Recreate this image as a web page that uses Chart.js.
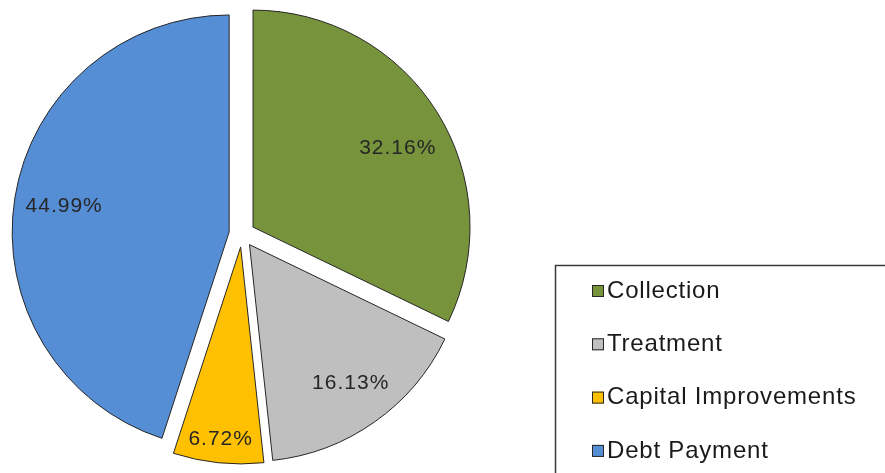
<!DOCTYPE html>
<html>
<head>
<meta charset="utf-8">
<script src="https://cdn.jsdelivr.net/npm/chart.js@4"></script>
<style>
    body { margin: 0; background: #ffffff; }
    #wrap { width: 885px; height: 473px; position: relative; }
</style>
</head>
<body>
<div id="wrap"><canvas id="pie-chart"></canvas></div>
<script>
// chart data
const categories = ['Collection', 'Treatment', 'Capital Improvements', 'Debt Payment'];
const shares = [32.16, 16.13, 6.72, 44.99];
const sliceColors = ['#77933C', '#BFBFBF', '#FFC000', '#558ED5'];

// where each label sits: part of the radius, and a small turn (degrees) off the slice middle
const labelRadius = [0.76, 0.79, 0.89, 0.77];
const labelTurn = [3.5, -1, 0, 0];
const EXPLODE = 13;      // px each slice is pulled out
const PIE_RADIUS = 217;

// draw the slices ourselves so every one is pulled out by the same distance
const explodePlugin = {
    id: 'explode',
    beforeDatasetDraw: function (chart, args) {
        const ctx = chart.ctx;
        args.meta.data.forEach(function (arc) {
            const mid = (arc.startAngle + arc.endAngle) / 2;
            ctx.save();
            ctx.translate(Math.cos(mid) * EXPLODE, Math.sin(mid) * EXPLODE);
            arc.draw(ctx);
            ctx.restore();
        });
        return false;
    }
};

// percentage labels inside the slices
const labelPlugin = {
    id: 'sliceLabels',
    afterDatasetsDraw: function (chart) {
        const ctx = chart.ctx;
        const meta = chart.getDatasetMeta(0);
        ctx.save();
        ctx.font = '21px "Liberation Sans", Arial, sans-serif';
        ctx.letterSpacing = '1px';
        ctx.fillStyle = '#262626';
        ctx.textAlign = 'center';
        ctx.textBaseline = 'middle';
        meta.data.forEach(function (arc, i) {
            const mid = (arc.startAngle + arc.endAngle) / 2;
            const a = mid + labelTurn[i] * Math.PI / 180;
            const d = arc.outerRadius * labelRadius[i];
            const x = arc.x + Math.cos(mid) * EXPLODE + Math.cos(a) * d;
            const y = arc.y + Math.sin(mid) * EXPLODE + Math.sin(a) * d;
            const value = chart.data.datasets[0].data[i];
            ctx.fillText(value.toFixed(2) + '%', x, y);
        });
        ctx.restore();
    }
};

// boxed legend at the bottom right
const legendPlugin = {
    id: 'boxLegend',
    afterDraw: function (chart) {
        const ctx = chart.ctx;
        const left = 555.5, top = 265.5;
        const firstRow = 291, rowGap = 53.3;
        ctx.save();
        ctx.strokeStyle = '#3a3a3a';
        ctx.lineWidth = 1.5;
        ctx.strokeRect(left, top, chart.width, chart.height);
        ctx.font = '24px "Liberation Sans", Arial, sans-serif';
        ctx.letterSpacing = '0.8px';
        ctx.textBaseline = 'middle';
        chart.data.labels.forEach(function (label, i) {
            const y = firstRow + i * rowGap;
            ctx.fillStyle = chart.data.datasets[0].backgroundColor[i];
            ctx.fillRect(592, y - 6, 12, 12);
            ctx.strokeStyle = '#262626';
            ctx.lineWidth = 1;
            ctx.strokeRect(592.5, y - 5.5, 11, 11);
            ctx.fillStyle = '#1a1a1a';
            ctx.fillText(label, 607, y);
        });
        ctx.restore();
    }
};

const canvas = document.getElementById('pie-chart');

new Chart(canvas, {
    type: 'pie',
    data: {
        labels: categories,
        datasets: [{
            data: shares,
            backgroundColor: sliceColors,
            borderColor: '#262626',
            borderWidth: 1,
            hoverBorderWidth: 1,
            offset: 0,
            hoverOffset: 0
        }]
    },
    options: {
        responsive: true,
        maintainAspectRatio: false,
        animation: false,
        radius: PIE_RADIUS,
        layout: {
            padding: { left: 0, right: 401, top: 0, bottom: 5 }
        },
        plugins: {
            legend: { display: false },
            tooltip: { enabled: false },
            title: { display: false }
        },
        events: []
    },
    plugins: [explodePlugin, labelPlugin, legendPlugin]
});
</script>
</body>
</html>
